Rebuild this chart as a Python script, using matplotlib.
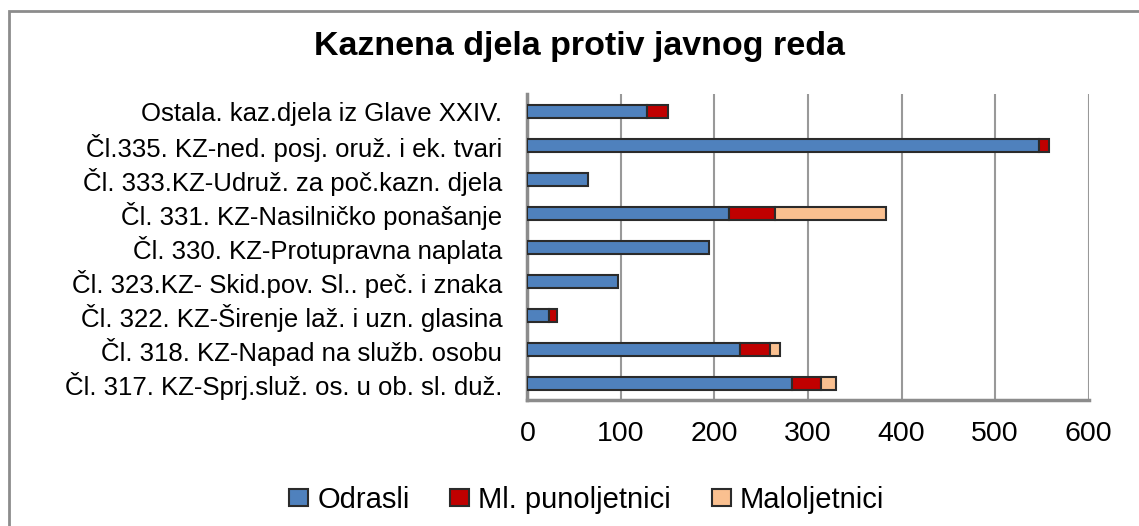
import matplotlib.pyplot as plt
from matplotlib.patches import Rectangle

# Kategorije (odozdo prema gore)
categories = [
    "Čl. 317. KZ-Sprj.služ. os. u ob. sl. duž.",
    "Čl. 318. KZ-Napad na služb. osobu",
    "Čl. 322. KZ-Širenje laž. i uzn. glasina",
    "Čl. 323.KZ- Skid.pov. Sl.. peč. i znaka",
    "Čl. 330. KZ-Protupravna naplata",
    "Čl. 331. KZ-Nasilničko ponašanje",
    "Čl. 333.KZ-Udruž. za poč.kazn. djela",
    "Čl.335. KZ-ned. posj. oruž. i ek. tvari",
    "Ostala. kaz.djela iz Glave XXIV.",
]
odrasli = [283, 227, 23, 97, 194, 215, 65, 547, 128]
ml_punoljetnici = [31, 32, 9, 0, 0, 50, 0, 10, 22]
maloljetnici = [16, 11, 0, 0, 0, 118, 0, 0, 0]
xticks = [0, 100, 200, 300, 400, 500, 600]

plt.rcParams['font.family'] = ['Liberation Sans', 'DejaVu Sans']

fig = plt.figure(figsize=(11.39, 5.26), dpi=100)
# okvir grafikona (desni i donji rub izvan slike)
fig.patches.append(Rectangle((9 / 1139, -0.05), 1.2, (526 - 11) / 526 + 0.05,
                             transform=fig.transFigure, fill=False,
                             edgecolor='#8c8c8c', linewidth=2))
ax = fig.add_axes([0.463, 0.2386, 0.4929, 0.5819])

y = range(len(categories))
left2 = [a + b for a, b in zip(odrasli, ml_punoljetnici)]
h = 0.37
ec = '#2b2b2b'
ax.barh(y, odrasli, height=h, color='#4F81BD', edgecolor=ec, linewidth=1.5, label='Odrasli', zorder=3)
ax.barh(y, ml_punoljetnici, left=odrasli, height=h, color='#C00000', edgecolor=ec, linewidth=1.5,
        label='Ml. punoljetnici', zorder=3)
ax.barh(y, maloljetnici, left=left2, height=h, color='#FAC090', edgecolor=ec, linewidth=1.5,
        label='Maloljetnici', zorder=3)
# ukloni prazne segmente
for cont in ax.containers:
    for p in cont.patches:
        if p.get_width() == 0:
            p.set_visible(False)

ax.set_xlim(0, 600)
ax.set_ylim(-0.5, len(categories) - 0.5)
ax.set_xticks(xticks)
ax.set_yticks(list(y))
ax.set_yticklabels(categories, fontsize=18.5)
ax.tick_params(axis='x', length=0, pad=15, labelsize=20.5)
ax.tick_params(axis='y', length=0, pad=18)
ax.grid(axis='x', color='#999999', linewidth=1.5, zorder=0)
for s in ['top', 'right']:
    ax.spines[s].set_visible(False)
for s in ['left', 'bottom']:
    ax.spines[s].set_color('#8c8c8c')
    ax.spines[s].set_linewidth(2.5)

fig.text(0.509, 1 - 46.7 / 526, "Kaznena djela protiv javnog reda", ha='center', va='center',
         fontsize=24.5, fontweight='bold')
fig.legend(loc='center', bbox_to_anchor=(0.515, 1 - 500 / 526), ncol=3, frameon=False, fontsize=21,
           handlelength=0.65, handleheight=0.55, handletextpad=0.3, columnspacing=1.4)

fig.savefig('out.png', dpi=100)
